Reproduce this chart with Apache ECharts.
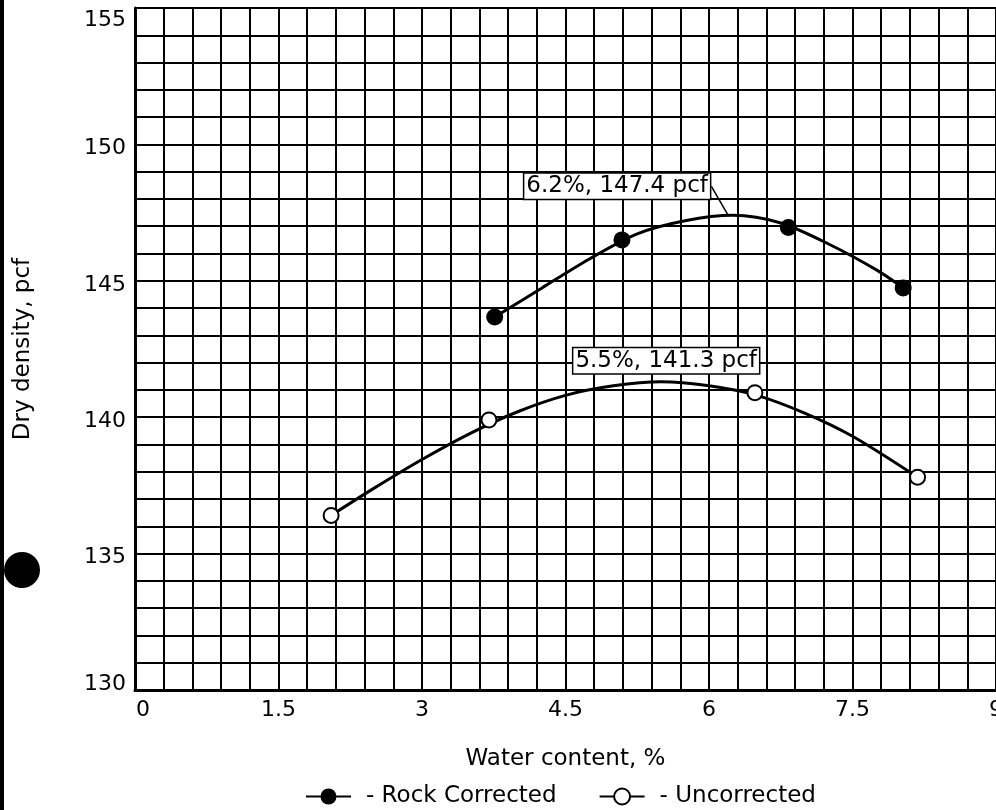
<!DOCTYPE html>
<html>
<head>
<meta charset="utf-8">
<title>Dry density vs water content</title>
<script src="https://cdn.jsdelivr.net/npm/echarts@6/dist/echarts.min.js"></script>
<style>
  html, body { margin: 0; padding: 0; background: #fff; }
  #chart { width: 996px; height: 810px; }
</style>
</head>
<body>
<div id="chart"></div>
<script>
// test points
var rockWater = [3.76, 5.09, 6.83, 8.03];
var rockDensity = [143.67, 146.5, 146.95, 144.74];
var uncWater = [2.05, 3.7, 6.48, 8.18];
var uncDensity = [136.4, 139.9, 140.9, 137.8];

// fitted curves
var rockCurveWater = [3.76, 4.25, 4.75, 5.25, 5.75, 6.25, 6.75, 7.25, 7.75, 8.03];
var rockCurveDensity = [143.67, 144.73, 145.8, 146.72, 147.2, 147.4, 147.12, 146.35, 145.4, 144.74];
var uncCurveWater = [2.05, 2.5, 3.0, 3.5, 4.0, 4.5, 5.0, 5.5, 6.0, 6.5, 7.0, 7.5, 8.18];
var uncCurveDensity = [136.4, 137.4, 138.45, 139.4, 140.2, 140.8, 141.15, 141.3, 141.15, 140.8, 140.15, 139.3, 137.8];

// optimum (water %, dry density)
var rockPeak = [6.2, 147.4];
var uncPeak = [5.5, 141.3];

var xTicks = [0, 1.5, 3, 4.5, 6, 7.5, 9];
var yTicks = [130, 135, 140, 145, 150, 155];

var font = "DejaVu Sans";

function zip(xs, ys) {
  var out = [];
  for (var i = 0; i < xs.length; i++) {
    out.push([xs[i], ys[i]]);
  }
  return out;
}

function onTick(list, v) {
  for (var i = 0; i < list.length; i++) {
    if (Math.abs(list[i] - v) < 1e-6) return true;
  }
  return false;
}

function peakText(p) {
  return p[0] + "%, " + p[1] + " pcf";
}

function tickStyle(padding) {
  return { color: "#000", fontFamily: font, fontSize: 22, padding: padding };
}

var myChart = echarts.init(document.getElementById("chart"));

var option = {
  backgroundColor: "#fff",
  animation: false,
  grid: {
    left: 135,
    right: 0,
    top: 8,
    bottom: 120,
    outerBoundsMode: "none"
  },
  xAxis: {
    type: "value",
    min: 0,
    max: 9,
    interval: 0.3,
    axisLine: { lineStyle: { color: "#000", width: 3 } },
    axisTick: { show: false },
    splitLine: { lineStyle: { color: "#000", width: 2 } },
    axisLabel: {
      color: "#000",
      fontFamily: font,
      fontSize: 22,
      margin: 9,
      showMaxLabel: true,
      formatter: function (v) {
        if (!onTick(xTicks, v)) return "";
        var s = String(Math.round(v * 10) / 10);
        return v === xTicks[0] ? "{first|" + s + "}" : s;
      },
      rich: {
        first: tickStyle([0, 0, 0, 16])
      }
    },
    name: "Water content, %",
    nameLocation: "middle",
    nameGap: 58,
    nameTextStyle: { color: "#000", fontFamily: font, fontSize: 23 }
  },
  yAxis: {
    type: "value",
    min: 130,
    max: 155,
    interval: 1,
    axisLine: { show: true, lineStyle: { color: "#000", width: 3 } },
    axisTick: { show: false },
    splitLine: { lineStyle: { color: "#000", width: 2 } },
    axisLabel: {
      color: "#000",
      fontFamily: font,
      fontSize: 22,
      margin: 9,
      formatter: function (v) {
        if (!onTick(yTicks, v)) return "";
        if (v === yTicks[0]) return "{bot|" + v + "}";
        if (v === yTicks[yTicks.length - 1]) return "{top|" + v + "}";
        return "{mid|" + v + "}";
      },
      rich: {
        mid: tickStyle([8, 0, 0, 0]),
        top: tickStyle([24, 0, 0, 0]),
        bot: tickStyle([0, 0, 11, 0])
      }
    },
    name: "Dry density, pcf",
    nameLocation: "middle",
    nameGap: 100,
    nameRotate: 90,
    nameTextStyle: { color: "#000", fontFamily: font, fontSize: 23 }
  },
  legend: {
    data: ["Rock Corrected", "Uncorrected"],
    left: 300,
    top: 780,
    itemWidth: 45,
    itemHeight: 20,
    itemGap: 42,
    formatter: "- {name}",
    textStyle: {
      color: "#000",
      fontFamily: font,
      fontSize: 23,
      padding: [0, 0, 0, 10]
    }
  },
  series: [
    {
      name: "Rock Corrected",
      type: "line",
      data: zip(rockCurveWater, rockCurveDensity),
      smooth: 0.3,
      symbol: "circle",
      symbolSize: 16,
      showSymbol: false,
      silent: true,
      itemStyle: { color: "#000" },
      lineStyle: { color: "#000", width: 3 },
      z: 3
    },
    {
      name: "Uncorrected",
      type: "line",
      data: zip(uncCurveWater, uncCurveDensity),
      smooth: 0.3,
      symbol: "circle",
      symbolSize: 14,
      showSymbol: false,
      silent: true,
      itemStyle: { color: "#fff", borderColor: "#000", borderWidth: 1.5 },
      lineStyle: { color: "#000", width: 3 },
      z: 3
    },
    {
      name: "Rock Corrected",
      type: "scatter",
      data: zip(rockWater, rockDensity),
      symbol: "circle",
      symbolSize: 17,
      itemStyle: { color: "#000", opacity: 1 },
      z: 4
    },
    {
      name: "Uncorrected",
      type: "scatter",
      data: zip(uncWater, uncDensity),
      symbol: "circle",
      symbolSize: 15,
      itemStyle: { color: "#fff", borderColor: "#000", borderWidth: 2, opacity: 1 },
      z: 4
    },
    {
      // optimum annotations
      name: "optimum",
      type: "scatter",
      symbolSize: 1,
      itemStyle: { color: "rgba(0,0,0,0)", opacity: 1 },
      silent: true,
      z: 5,
      label: {
        show: true,
        position: "inside",
        formatter: function (params) {
          return peakText(params.value);
        },
        fontFamily: font,
        fontSize: 23,
        color: "#000",
        backgroundColor: "#fff",
        borderColor: "#000",
        borderWidth: 1.5,
        padding: [2, 2, 0, 2]
      },
      labelLine: { show: true, lineStyle: { color: "#000", width: 1.5 } },
      labelLayout: function (params) {
        if (params.dataIndex === 0) {
          return { dx: -111, dy: -29 };
        }
        return { dx: 5, dy: -21 };
      },
      data: [
        { value: rockPeak },
        { value: uncPeak, labelLine: { show: false } }
      ]
    }
  ],
  graphic: [
    { type: "rect", shape: { x: 0, y: 0, width: 4, height: 810 }, style: { fill: "#000" } },
    { type: "circle", shape: { cx: 22, cy: 570, r: 18 }, style: { fill: "#000" } }
  ]
};

myChart.setOption(option);
</script>
</body>
</html>
